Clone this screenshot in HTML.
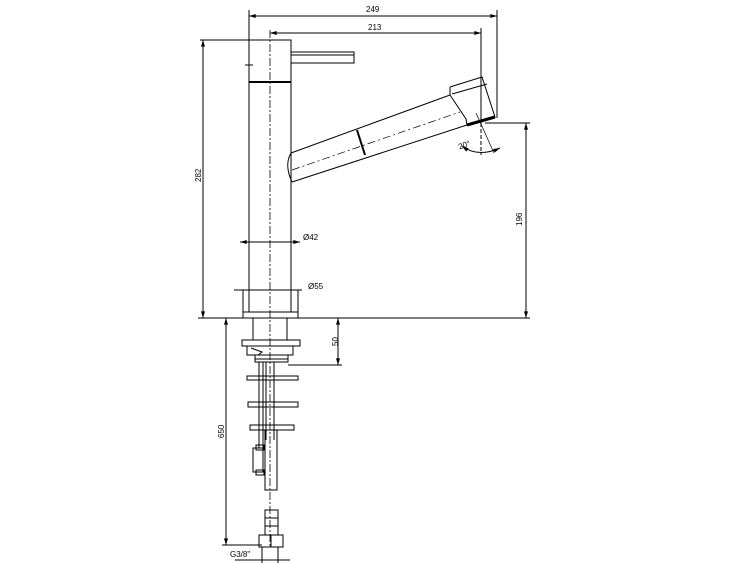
<!DOCTYPE html>
<html><head><meta charset="utf-8"><style>
html,body{margin:0;padding:0;background:#fff;}
svg{display:block;}
text{font-family:"Liberation Sans",sans-serif;font-size:8px;fill:#000;}
</style></head><body>
<svg width="750" height="563" viewBox="0 0 750 563" xmlns="http://www.w3.org/2000/svg">
<defs>
<marker id="a" viewBox="0 0 10 6" refX="10" refY="3" markerWidth="7" markerHeight="4" orient="auto-start-reverse"><path d="M0,0L10,3L0,6z" fill="#000"/></marker>
</defs>
<g stroke="#000" fill="none" stroke-width="1">
<!-- dimension 249 -->
<line x1="249" y1="10" x2="249" y2="40"/>
<line x1="497" y1="10" x2="497" y2="118"/>
<line x1="249" y1="16" x2="497" y2="16" marker-start="url(#a)" marker-end="url(#a)"/>
<!-- 213 -->
<line x1="481" y1="28" x2="481" y2="123"/>
<line x1="270" y1="33" x2="481" y2="33" marker-start="url(#a)" marker-end="url(#a)"/>
<!-- 282 -->
<line x1="200" y1="40" x2="249" y2="40"/>
<line x1="203" y1="40" x2="203" y2="318" marker-start="url(#a)" marker-end="url(#a)"/>
<!-- baseline -->
<line x1="198" y1="318" x2="530" y2="318"/>
<!-- 196 -->
<line x1="485" y1="123" x2="530" y2="123"/>
<line x1="526" y1="123" x2="526" y2="318" marker-start="url(#a)" marker-end="url(#a)"/>
<!-- body -->
<rect x="249" y="40" width="42" height="272"/>
<line x1="249" y1="82" x2="291" y2="82" stroke-width="2"/>
<line x1="245" y1="65" x2="253" y2="65"/><line x1="249" y1="61" x2="249" y2="69"/>
<!-- lever -->
<rect x="291" y="52" width="63" height="11"/>
<line x1="291" y1="55" x2="354" y2="55"/>
<!-- spout -->
<path d="M291,153 L450,95"/>
<path d="M292,182 L467,125"/>
<path d="M291,153 Q284,165 292,182"/>
<path d="M292,170 L460,112" stroke-dasharray="8,3,2,3" stroke-width="0.7"/>
<line x1="357" y1="130" x2="365" y2="155" stroke-width="2"/>
<path d="M450,87 L450,95 M450,87 L482,77 L495,117 L484,121 L467,125 L466,119 L450,95"/>
<path d="M452,94 L487,84"/>
<path d="M467,125 L495,117" stroke-width="3"/>
<!-- angle -->
<line x1="481" y1="123" x2="481" y2="155" stroke-dasharray="4,2"/>
<line x1="476" y1="113" x2="494" y2="153" stroke-width="0.7"/>
<path d="M462,146 Q478,158 500,148" marker-start="url(#a)" marker-end="url(#a)"/>
<!-- centerline -->
<line x1="270" y1="30" x2="270" y2="548" stroke-dasharray="8,2,2,2" stroke-width="0.8"/>
<!-- d42 -->
<line x1="240" y1="242" x2="300" y2="242" marker-start="url(#a)" marker-end="url(#a)"/>
<!-- d55 -->
<line x1="243" y1="290" x2="243" y2="312"/><line x1="298" y1="290" x2="298" y2="312"/>
<line x1="234" y1="290" x2="302" y2="290"/>
<rect x="243" y="312" width="55" height="6"/>
<!-- under counter -->
<rect x="253" y="318" width="34" height="22"/>
<rect x="242" y="340" width="58" height="6"/>
<path d="M247,346 L247,355 L293,355 L293,346"/>
<path d="M251,348 L262,352 L258,355" />
<rect x="255" y="355" width="33" height="7"/>
<line x1="255" y1="359" x2="288" y2="359"/>
<!-- 50 -->
<line x1="288" y1="365" x2="342" y2="365"/>
<line x1="338" y1="318" x2="338" y2="365" marker-start="url(#a)" marker-end="url(#a)"/>
<!-- 650 -->
<line x1="222" y1="545" x2="262" y2="545"/>
<line x1="226" y1="318" x2="226" y2="545" marker-start="url(#a)" marker-end="url(#a)"/>
<!-- tubes -->
<line x1="259" y1="362" x2="259" y2="448"/><line x1="263" y1="362" x2="263" y2="448"/>
<line x1="266" y1="362" x2="266" y2="440"/><line x1="274" y1="362" x2="274" y2="440"/>
<rect x="247" y="376" width="51" height="4"/>
<rect x="248" y="402" width="50" height="5"/>
<rect x="250" y="425" width="44" height="5"/>
<rect x="265" y="430" width="12" height="60"/>
<rect x="253" y="448" width="10" height="24"/>
<rect x="256" y="445" width="8" height="5"/><rect x="256" y="470" width="8" height="5"/>
<!-- lower fitting -->
<rect x="265" y="510" width="13" height="25"/>
<line x1="265" y1="518" x2="278" y2="518"/><line x1="265" y1="526" x2="278" y2="526"/>
<rect x="259" y="535" width="24" height="12"/>
<line x1="271" y1="535" x2="271" y2="547"/>
<!-- G3/8 -->
<line x1="262" y1="547" x2="262" y2="563"/><line x1="278" y1="547" x2="278" y2="563"/>
<line x1="235" y1="560" x2="290" y2="560"/>
</g>
<text x="366" y="12">249</text>
<text x="368" y="30">213</text>
<text x="303" y="240">Ø42</text>
<text x="308" y="289">Ø55</text>
<text x="458" y="147" transform="rotate(-20 466 144)">20°</text>
<text transform="translate(201,182) rotate(-90)">282</text>
<text transform="translate(522,226) rotate(-90)">196</text>
<text transform="translate(338,346) rotate(-90)">50</text>
<text transform="translate(224,438) rotate(-90)">650</text>
<text x="230" y="557">G3/8"</text>
</svg>
</body></html>
